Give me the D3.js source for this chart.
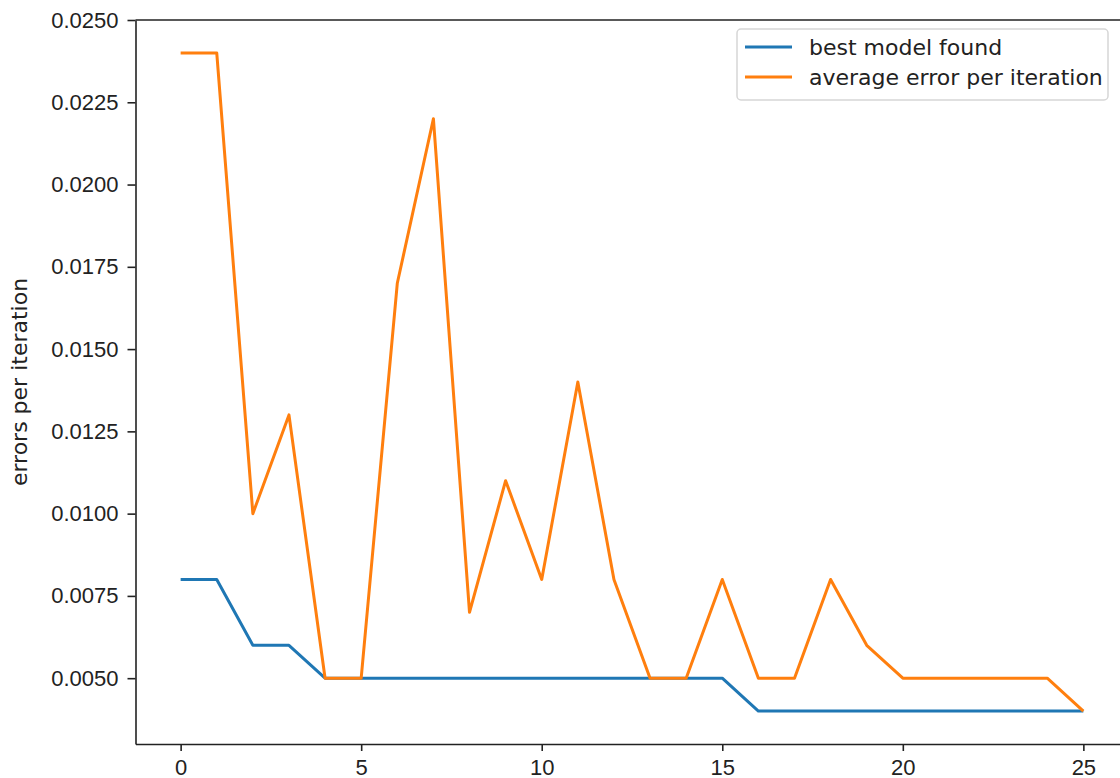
<!DOCTYPE html>
<html>
<head>
<meta charset="utf-8">
<script src="https://cdn.jsdelivr.net/npm/d3@7"></script>
<style>
  body { margin: 0; background: #fff; }
  svg { display: block; font-family: "DejaVu Sans", sans-serif; }
  .axis text { font-size: 22px; fill: #222; }
  .axis path, .axis line { stroke: #222; stroke-width: 1.6; }
</style>
</head>
<body>
<svg id="chart"></svg>
<script>
// iteration index
const iterations = d3.range(0, 26);

// best model found per iteration
const bestModel = [0.008, 0.008, 0.006, 0.006, 0.005, 0.005, 0.005, 0.005, 0.005, 0.005,
  0.005, 0.005, 0.005, 0.005, 0.005, 0.005, 0.004, 0.004, 0.004, 0.004,
  0.004, 0.004, 0.004, 0.004, 0.004, 0.004];

// average error per iteration
const avgError = [0.024, 0.024, 0.010, 0.013, 0.005, 0.005, 0.017, 0.022, 0.007, 0.011,
  0.008, 0.014, 0.008, 0.005, 0.005, 0.008, 0.005, 0.005, 0.008, 0.006,
  0.005, 0.005, 0.005, 0.005, 0.005, 0.004];

const xTicks = [0, 5, 10, 15, 20, 25];
const yTicks = [0.005, 0.0075, 0.010, 0.0125, 0.015, 0.0175, 0.020, 0.0225, 0.025];

const seriesNames = ["best model found", "average error per iteration"];
const seriesColors = ["#1f77b4", "#ff7f0e"];

const config = {
  containerWidth: 1120,
  containerHeight: 778,
  margin: { top: 20, left: 135.5 }
};
const width = 993;
const height = 724;

const svg = d3.select('#chart')
    .attr('width', config.containerWidth)
    .attr('height', config.containerHeight);

const chart = svg.append('g')
    .attr('transform', `translate(${config.margin.left},${config.margin.top})`);

// matplotlib-like 5% margins
const xScale = d3.scaleLinear().domain([-1.25, 26.25]).range([0, width]);
const yScale = d3.scaleLinear().domain([0.003, 0.025]).range([height, 0]);

const xAxis = d3.axisBottom(xScale)
    .tickValues(xTicks)
    .tickSizeInner(7)
    .tickSizeOuter(0)
    .tickPadding(8)
    .tickFormat(d3.format('d'));

const yAxis = d3.axisLeft(yScale)
    .tickValues(yTicks)
    .tickSizeInner(8)
    .tickSizeOuter(0)
    .tickPadding(9)
    .tickFormat(d3.format('.4f'));

chart.append('g')
    .attr('class', 'axis x-axis')
    .attr('transform', `translate(0,${height})`)
    .call(xAxis);

chart.append('g')
    .attr('class', 'axis y-axis')
    .call(yAxis);

// top and right spines
chart.append('line')
    .attr('x1', 0).attr('x2', width).attr('y1', 0).attr('y2', 0)
    .attr('stroke', '#222').attr('stroke-width', 1.6);
chart.append('line')
    .attr('x1', width).attr('x2', width).attr('y1', 0).attr('y2', height)
    .attr('stroke', '#222').attr('stroke-width', 1.6);

// y label
svg.append('text')
    .attr('transform', `translate(27,${config.margin.top + height / 2}) rotate(-90)`)
    .attr('text-anchor', 'middle')
    .style('font-size', '22px')
    .style('fill', '#222')
    .text('errors per iteration');

const line = d3.line()
    .x((d, i) => xScale(iterations[i]))
    .y(d => yScale(d));

[bestModel, avgError].forEach((values, k) => {
  chart.append('path')
      .datum(values)
      .attr('fill', 'none')
      .attr('stroke', seriesColors[k])
      .attr('stroke-width', 3)
      .attr('stroke-linejoin', 'round')
      .attr('d', line);
});

// legend
const legend = chart.append('g')
    .attr('transform', `translate(${width - 391.5},${9})`);

legend.append('rect')
    .attr('x', 0).attr('y', 0)
    .attr('width', 371).attr('height', 71)
    .attr('rx', 4)
    .attr('fill', 'rgba(255,255,255,0.8)')
    .attr('stroke', '#d6d6d6')
    .attr('stroke-width', 1.5);

seriesNames.forEach((name, k) => {
  const y = 18 + k * 30;
  legend.append('line')
      .attr('x1', 8).attr('x2', 55)
      .attr('y1', y).attr('y2', y)
      .attr('stroke', seriesColors[k])
      .attr('stroke-width', 3);
  legend.append('text')
      .attr('x', 72).attr('y', y)
      .attr('dy', '0.35em')
      .style('font-size', '22px')
      .style('fill', '#222')
      .text(name);
});
</script>
</body>
</html>
